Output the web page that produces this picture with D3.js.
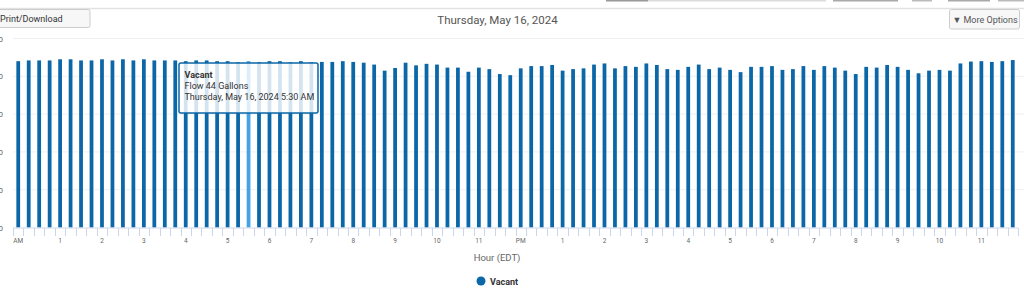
<html>
<head>
  <script src="https://d3js.org/d3.v7.min.js"></script>
  <style>
    body { margin: 0; background: white; }
    text { font-family: Roboto, "Open Sans", Arial, sans-serif; }
  </style>
</head>
<body>
  <svg id="chart" width="1024" height="295"></svg>
  <script>
    // 15 minute flow readings, midnight to 11:45 PM
    const flow = [
      44.0, 44.2, 44.2, 44.2, 44.5, 44.5, 44.2, 44.2, 44.5, 44.2, 44.5, 44.2,
      44.5, 44.2, 44.2, 44.2, 44.0, 44.2, 44.2, 44.0, 44.0, 43.7, 44.0, 43.7,
      44.0, 44.0, 43.7, 44.0, 43.7, 43.8, 43.8, 44.0, 43.8, 43.6, 43.1, 41.5,
      42.2, 43.6, 42.9, 43.3, 43.1, 42.3, 42.3, 41.2, 42.3, 41.9, 40.6, 40.3,
      42.1, 42.7, 42.7, 43.0, 41.5, 41.9, 42.1, 43.1, 43.4, 42.1, 42.7, 42.5,
      43.4, 43.0, 41.9, 41.7, 42.5, 43.1, 41.9, 42.3, 41.7, 41.1, 42.5, 42.5,
      42.7, 41.7, 41.9, 42.7, 41.7, 42.7, 42.3, 41.5, 40.6, 42.5, 42.3, 43.0,
      42.5, 41.7, 40.8, 41.5, 41.7, 41.5, 43.4, 43.9, 44.0, 43.8, 44.0, 44.3
    ];
    const hourLabels = ["AM", "1", "2", "3", "4", "5", "6", "7", "8", "9", "10", "11",
                        "PM", "1", "2", "3", "4", "5", "6", "7", "8", "9", "10", "11"];
    const yTicks = [0, 10, 20, 30, 40, 50];
    const seriesName = "Vacant";
    const activeIndex = 22; // 5:30 AM
    const tooltipLines = ["Vacant", "Flow 44 Gallons", "Thursday, May 16, 2024 5:30 AM"];

    let svg = d3.select("svg#chart");
    let width = +svg.attr("width");

    const barColor = "#0b67a7";
    const hoverColor = "#45a3e5";

    let x = d3.scaleBand()
      .domain(d3.range(flow.length))
      .range([13, 1018]);

    let y = d3.scaleLinear()
      .domain([0, 50])
      .range([227.5, 38.5]);

    // toolbar remains at the very top
    const toolbar = [[606, 42, "#9a9a9a"], [648, 178, "#dcdcdc"], [833, 65, "#a9a9a9"],
                     [912, 20, "#bbbbbb"], [948, 42, "#a9a9a9"], [998, 26, "#bbbbbb"]];
    toolbar.forEach(t => {
      svg.append("rect").attr("x", t[0]).attr("y", 0).attr("width", t[1]).attr("height", 1.5)
        .style("fill", t[2]);
    });
    svg.append("line").attr("x1", 0).attr("x2", width).attr("y1", 8.5).attr("y2", 8.5)
      .style("stroke", "#e2e2e2").style("stroke-width", 1.5);

    // buttons
    svg.append("rect").attr("x", -5).attr("y", 9.5).attr("width", 95).attr("height", 18).attr("rx", 2)
      .style("fill", "#f7f7f7").style("stroke", "#cccccc");
    svg.append("text").text("Print/Download").attr("x", 0).attr("y", 22)
      .style("text-anchor", "start").style("font-size", "9px").style("fill", "#333");

    svg.append("rect").attr("x", 949.5).attr("y", 9.5).attr("width", 70).attr("height", 19.5).attr("rx", 2)
      .style("fill", "#f7f7f7").style("stroke", "#cccccc");
    svg.append("text").text("\u25BC More Options").attr("x", 985).attr("y", 22.5)
      .style("text-anchor", "middle").style("font-size", "9px").style("fill", "#555");

    svg.append("text").text("Thursday, May 16, 2024").attr("x", 497.5).attr("y", 24)
      .style("text-anchor", "middle").style("font-size", "11.5px").style("fill", "#555");

    // grid and y labels
    yTicks.forEach(t => {
      if (t > 0) {
        svg.append("line").attr("x1", 13).attr("x2", width).attr("y1", y(t)).attr("y2", y(t))
          .style("stroke", "#f0f0f0").style("stroke-width", 1);
      }
      svg.append("text").text(t.toString()).attr("x", 3).attr("y", y(t) + 3)
        .style("text-anchor", "end").style("font-size", "8px").style("fill", "#666");
    });

    // bars
    const bw = x.bandwidth() * 0.36;
    flow.forEach((d, i) => {
      svg.append("rect")
        .attr("x", x(i) + (x.bandwidth() - bw) / 2)
        .attr("y", y(d))
        .attr("width", bw)
        .attr("height", y(0) - y(d))
        .style("fill", i == activeIndex ? hoverColor : barColor);
    });

    // x axis
    svg.append("line").attr("x1", 13).attr("x2", 1018).attr("y1", 228).attr("y2", 228)
      .style("stroke", "#ccd6eb").style("stroke-width", 1);
    for (let i = 0; i <= flow.length; i++) {
      let tx = Math.round(13 + i * x.step()) + 0.5;
      svg.append("line").attr("x1", tx).attr("x2", tx).attr("y1", 228).attr("y2", 236)
        .style("stroke", "#ccd6eb").style("stroke-width", 1);
    }
    hourLabels.forEach((h, i) => {
      svg.append("text").text(h)
        .attr("x", x(i * 4) + x.bandwidth() / 2)
        .attr("y", 243)
        .style("text-anchor", "middle").style("font-size", "6.5px").style("fill", "#666");
    });

    svg.append("text").text("Hour (EDT)").attr("x", 497).attr("y", 261)
      .style("text-anchor", "middle").style("font-size", "9.5px").style("fill", "#666");

    // legend
    svg.append("circle").attr("cx", 481).attr("cy", 281).attr("r", 4.5).style("fill", barColor);
    svg.append("text").text(seriesName).attr("x", 490).attr("y", 284.5)
      .style("font-size", "9px").style("font-weight", "bold").style("fill", "#333");

    // tooltip
    let tip = svg.append("g");
    tip.append("rect").attr("x", 179).attr("y", 63).attr("width", 139).attr("height", 50).attr("rx", 2)
      .style("fill", "white").style("fill-opacity", 0.82)
      .style("stroke", "#0b67a7").style("stroke-width", 1.5);
    tooltipLines.forEach((t, i) => {
      tip.append("text").text(t).attr("x", 184.5).attr("y", 77.5 + i * 11)
        .style("font-size", "9px").style("fill", "#333")
        .style("font-weight", i == 0 ? "bold" : "normal");
    });
  </script>
</body>
</html>
